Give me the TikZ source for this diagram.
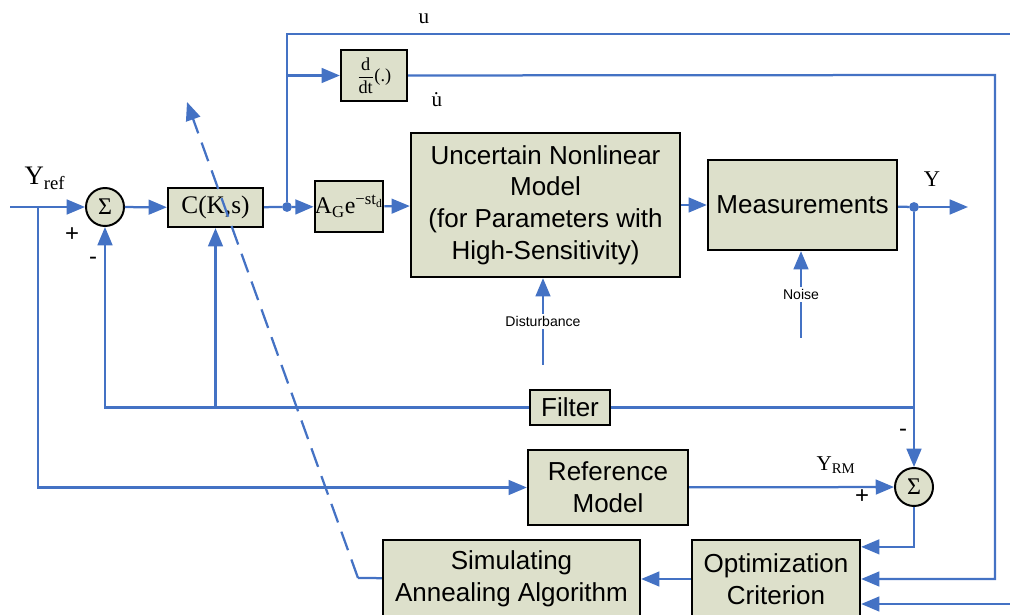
\documentclass[tikz,border=0pt]{standalone}
\usepackage{fontspec}
\setmainfont{Liberation Serif}
\newfontfamily\arialfont{Liberation Sans}
\usetikzlibrary{arrows.meta, positioning, calc}
\definecolor{lineblue}{RGB}{68,114,196}
\definecolor{boxfill}{RGB}{221,224,203}

\begin{document}
\begin{tikzpicture}[x=0.025cm, y=-0.025cm,
  blk/.style={draw=black, fill=boxfill, line width=1.6pt, align=center, inner sep=0pt,
    font=\arialfont\fontsize{18.5}{22.5}\selectfont},
  sumnode/.style={circle, draw=black, fill=boxfill, line width=1.4pt, minimum size=0.95cm,
    inner sep=0pt, font=\fontsize{17}{17}\selectfont},
  sig/.style={draw=lineblue, line width=1.6pt},
  arr/.style={sig, -{Triangle[length=13pt, width=10.5pt]}},
  dot/.style={circle, fill=lineblue, inner sep=0pt, minimum size=7pt},
  sgn/.style={inner sep=0pt, font=\arialfont\fontsize{17}{17}\selectfont},
  lbl/.style={inner sep=0pt, font=\fontsize{15}{15}\selectfont},
  small/.style={fill=white, inner sep=1.5pt, font=\arialfont\fontsize{10}{10}\selectfont}]

    \useasboundingbox (0,0) rectangle (1010,615);

    %creates the blocks of the loop
    \node (sum1) [sumnode] at (105,207) {Σ};%first summing point
    \node (cks) [blk, minimum width=2.375cm, minimum height=0.975cm,
    font=\fontsize{18}{18}\selectfont] at (215.5,207.5) {C(K,s)};%controller
    \node (ag) [blk, minimum width=1.7cm, minimum height=1.275cm,
    font=\fontsize{17}{17}\selectfont] at (349,206.5) {A\textsubscript{G}e\textsuperscript{−st\textsubscript{d}}};%actuator with delay
    \node (ddt) [blk, minimum width=1.65cm, minimum height=1.275cm,
    font=\fontsize{13}{13}\selectfont] at (374,75.5) {$\displaystyle\frac{\mbox{d}}{\mbox{dt}}$(.)};%derivative
    \node (plant) [blk, minimum width=6.725cm, minimum height=3.6cm] at (545.5,205)
    {Uncertain Nonlinear\\Model\\(for Parameters with\\High-Sensitivity)};%plant
    \node (meas) [blk, minimum width=4.725cm, minimum height=2.25cm] at (802.5,205) {Measurements};
    \node (filt) [blk, minimum width=2cm, minimum height=0.875cm] at (570,407.5) {Filter};
    \node (refm) [blk, minimum width=4cm, minimum height=1.875cm] at (608,487.5) {Reference\\Model};
    \node (sum2) [sumnode] at (914,487) {Σ};%error summing point
    \node (opt) [blk, minimum width=4.2cm, minimum height=1.95cm] at (776,579) {Optimization\\Criterion};
    \node (sim) [blk, minimum width=6.425cm, minimum height=1.95cm] at (511.5,579) {Simulating\\Annealing Algorithm};

    %branch points and free ends
    \node (j1) [dot] at (287,207) {};%branch of u
    \node (jy) [dot] at (914,207) {};%branch of Y
    \coordinate (yin) at (10,207);
    \coordinate (ybr) at (38,207);
    \coordinate (yout) at (968,207);
    \coordinate (uend) at (1010,34);
    \coordinate (dcorner) at (995,75);
    \coordinate (ynin) at (1010,604);
    \coordinate (dstart) at (358,578);
    \coordinate (dtip) at (187,102);
    \coordinate (dist) at (543,365);
    \coordinate (noise) at (801,338);

    %draws the forward path
    \draw [arr] (yin) -- (sum1);
    \draw [arr] (sum1) -- (cks);
    \draw [sig] (cks) -- (j1);
    \draw [arr] (j1) -- (ag);
    \draw [arr] (ag) -- (plant);
    \draw [arr] (plant) -- (meas);
    \draw [sig] (meas) -- (jy);
    \draw [arr] (jy) -- (yout);

    %draws u and its derivative
    \draw [sig] (j1) |- (uend);
    \draw [arr] (j1 |- ddt) -- (ddt);
    \draw [arr] (ddt) -- (dcorner) |- (opt);

    %draws the feedback through the filter
    \draw [sig] (jy |- filt) -- (filt);
    \draw [arr] (filt) -- (sum1 |- filt) -- (sum1);
    \draw [arr] (cks |- filt) -- (cks);

    %draws the reference model and error path
    \draw [arr] (ybr) |- (refm);
    \draw [arr] (refm) -- (sum2);
    \draw [arr] (jy) -- (sum2);
    \draw [arr] (sum2) |- ($(opt.north east)+(0,8)$);
    \draw [arr] (ynin) -- (ynin -| opt.east);
    \draw [arr] (opt) -- (sim);
    \draw [sig] (sim) -- (dstart);
    \draw [arr, dash pattern=on 14pt off 7pt] (dstart) -- (dtip);%tuning of K

    %draws disturbance and noise
    \draw [arr] (dist) -- (dist |- plant.south) node [small, pos=0.5] {Disturbance};
    \draw [arr] (noise) -- (noise |- meas.south) node [small, pos=0.5] {Noise};

    %labels signals and signs
    \node (yreflbl) [lbl, font=\fontsize{19}{19}\selectfont] at (45,178) {Y\textsubscript{ref}};
    \node (plus1) [sgn] at (72,235) {+};
    \node (minus1) [sgn] at (93,261) {-};
    \node (ulbl) [lbl] at (424,19) {u};
    \node (udot) [lbl] at (437,100) {\.{u}};
    \node (ylbl) [lbl, font=\fontsize{16}{16}\selectfont] at (932,179) {Y};
    \node (minus2) [sgn] at (903,433) {-};
    \node (yrm) [lbl] at (836,465) {Y\textsubscript{RM}};
    \node (plus2) [sgn] at (862,497) {+};
  \end{tikzpicture}
\end{document}
